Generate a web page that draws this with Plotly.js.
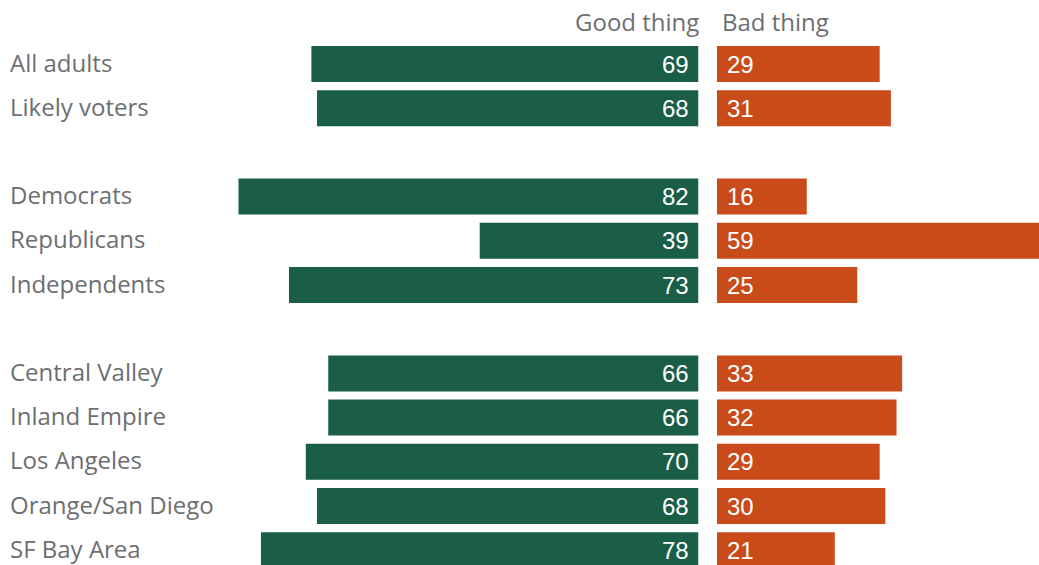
<!DOCTYPE html>
<html>
<head>
<meta charset="utf-8">
<script src="https://cdn.plot.ly/plotly-3.0.1.min.js"></script>
<style>html,body{margin:0;padding:0;background:#fff;}#chart{width:1039px;height:565px;}</style>
</head>
<body>
<div id="chart"></div>
<script>
const categories = ["All adults","Likely voters","Democrats","Republicans","Independents","Central Valley","Inland Empire","Los Angeles","Orange/San Diego","SF Bay Area"];
const slots = [0,1,3,4,5,7,8,9,10,11];
const goodThing = [69,68,82,39,73,66,66,70,68,78];
const badThing = [29,31,16,59,25,33,32,29,30,21];
const seriesNames = ["Good thing","Bad thing"];

const W = 1039, H = 565;
const pxPerUnit = 5.61;
const greenEnd = 698.5, orangeStart = 717;
const rowPx = 44.2, firstRow = 64;

const labelFont = {family: "'Open Sans', Lato, sans-serif", size: 24, color: "#6d6e71"};
const valueFont = {family: "'Liberation Sans', Arial, sans-serif", size: 24, color: "#ffffff"};

const traces = [
  {type:"bar", orientation:"h", name:seriesNames[0], x:goodThing, y:slots, xaxis:"x", yaxis:"y",
   marker:{color:"#1a5e47"}, width:0.815, hoverinfo:"none"},
  {type:"bar", orientation:"h", name:seriesNames[1], x:badThing, y:slots, xaxis:"x2", yaxis:"y",
   marker:{color:"#c94b1a"}, width:0.815, hoverinfo:"none"}
];

const annotations = categories.map((c,i)=>({
  text:c, xref:"paper", yref:"y", x:8/W, y:slots[i], xanchor:"left", yanchor:"middle",
  yshift:2, showarrow:false, font:labelFont
}));
goodThing.forEach((v,i)=>annotations.push({
  text:String(v), xref:"x", yref:"y", x:0, y:slots[i], xanchor:"right", yanchor:"middle",
  xshift:-8, yshift:0, showarrow:false, font:valueFont
}));
badThing.forEach((v,i)=>annotations.push({
  text:String(v), xref:"x2", yref:"y", x:0, y:slots[i], xanchor:"left", yanchor:"middle",
  xshift:8, yshift:0, showarrow:false, font:valueFont
}));
annotations.push({text:seriesNames[0], xref:"paper", yref:"paper", x:(greenEnd+2)/W, y:1-22/H, xanchor:"right", yanchor:"middle", showarrow:false, font:labelFont});
annotations.push({text:seriesNames[1], xref:"paper", yref:"paper", x:(orangeStart+3)/W, y:1-22/H, xanchor:"left", yanchor:"middle", showarrow:false, font:labelFont});

const layout = {
  width:W, height:H, margin:{l:0,r:0,t:0,b:0},
  paper_bgcolor:"#fff", plot_bgcolor:"#fff", showlegend:false, barmode:"overlay",
  xaxis:{domain:[0, greenEnd/W], range:[greenEnd/pxPerUnit, 0], visible:false, fixedrange:true},
  xaxis2:{domain:[orangeStart/W, 1], range:[0, (W-orangeStart)/pxPerUnit], visible:false, fixedrange:true},
  yaxis:{range:[(H-firstRow)/rowPx, -firstRow/rowPx], visible:false, fixedrange:true},
  annotations:annotations
};

Plotly.newPlot("chart", traces, layout, {displayModeBar:false, staticPlot:true});
</script>
</body>
</html>
